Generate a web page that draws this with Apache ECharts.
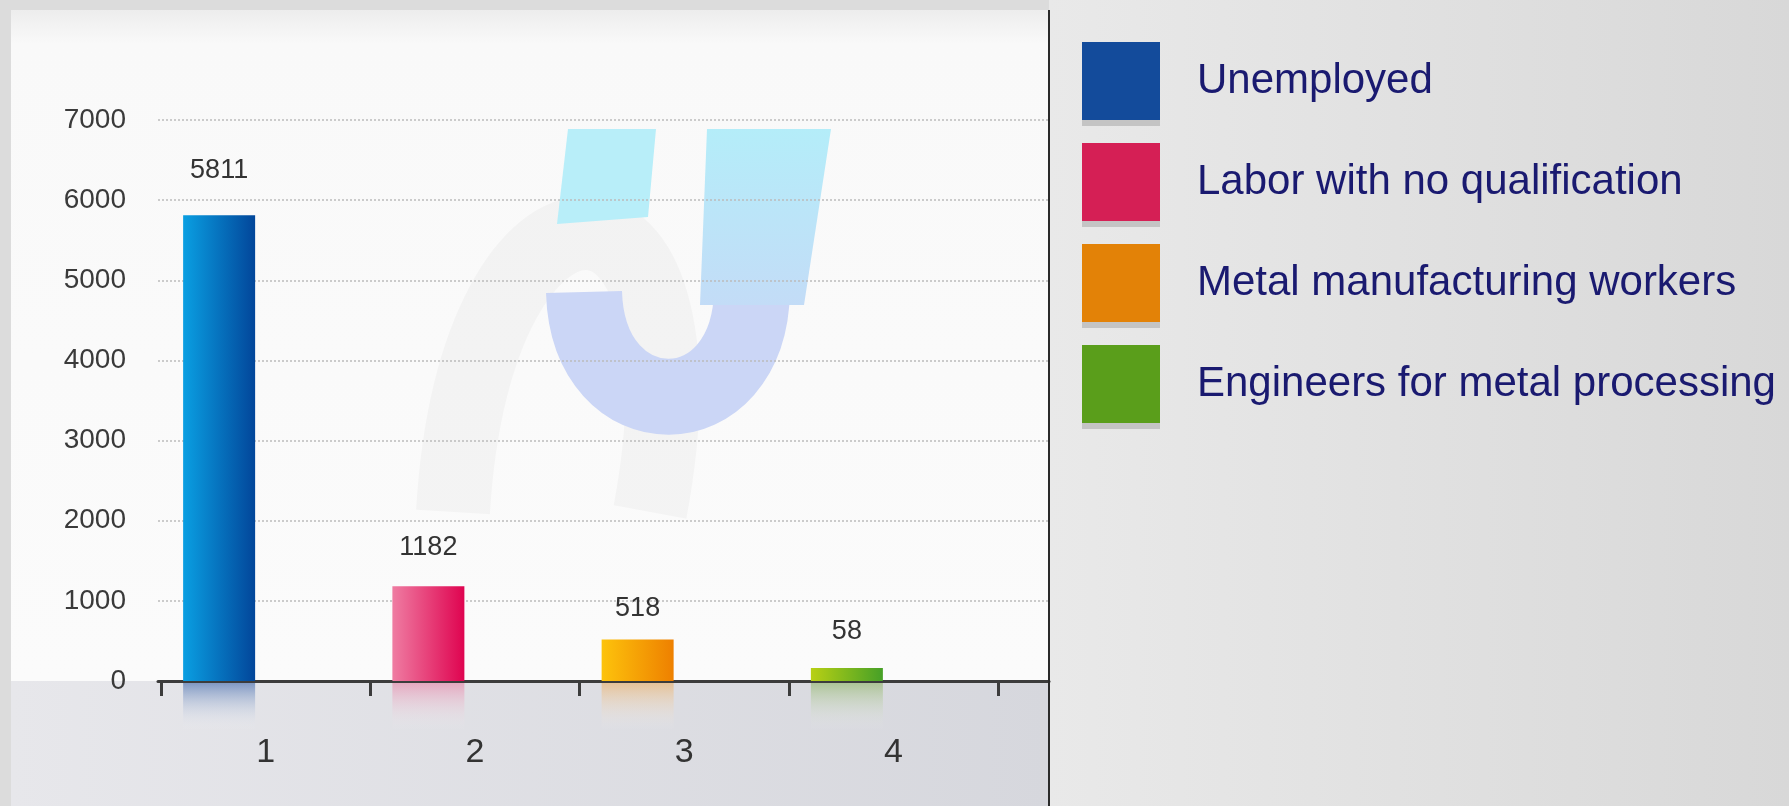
<!DOCTYPE html>
<html>
<head>
<meta charset="utf-8">
<title>Unemployment and metal workers</title>
<script src="https://cdn.jsdelivr.net/npm/echarts@6/dist/echarts.min.js"></script>
<style>
  html, body { margin: 0; padding: 0; background: #dcdcdc; }
  #chart { width: 1789px; height: 806px; }
</style>
</head>
<body>
<div id="chart"></div>
<script>
// data
const categories = ['1', '2', '3', '4'];
const seriesNames = [
  'Unemployed',
  'Labor with no qualification',
  'Metal manufacturing workers',
  'Engineers for metal processing'
];
const values = [5811, 1182, 518, 58];
const yMin = 0;
const yMax = 7000;
const yStep = 1000;

// styles
const FONT = 'Liberation Sans, Arial, Helvetica, sans-serif';
const barLeft = ['#0a9fe2', '#ef7ca2', '#fdc30c', '#b8d014'];
const barRight = ['#02469a', '#df0450', '#ee8000', '#46a027'];
const legendColors = ['#134b9b', '#d51f55', '#e38207', '#5a9e1b'];
const reflTop = ['rgba(45,90,165,0.55)', 'rgba(235,90,140,0.42)', 'rgba(240,160,60,0.45)', 'rgba(110,165,50,0.42)'];
const labelGap = [31, 25, 17, 23];

const chart = echarts.init(document.getElementById('chart'));

const hGrad = (a, b) => new echarts.graphic.LinearGradient(0, 0, 1, 0, [
  { offset: 0, color: a },
  { offset: 1, color: b }
]);
const vGrad = (a, b) => new echarts.graphic.LinearGradient(0, 0, 0, 1, [
  { offset: 0, color: a },
  { offset: 1, color: b }
]);

// main bars, one series per legend entry
const barSeries = seriesNames.map((name, i) => ({
  name: name,
  type: 'bar',
  xAxisIndex: 2,
  yAxisIndex: 2,
  barWidth: 72,
  barGap: '-100%',
  barMinHeight: 13,
  data: values.map((v, j) => (j === i ? v : null)),
  itemStyle: { color: hGrad(barLeft[i], barRight[i]) },
  label: {
    show: true,
    position: 'top',
    distance: labelGap[i],
    fontSize: 27,
    color: '#333',
    fontFamily: FONT
  },
  z: 3
}));

// faded reflection under the axis (clipped to its own small grid)
const reflection = {
  type: 'bar',
  xAxisIndex: 3,
  yAxisIndex: 3,
  barWidth: 72,
  silent: true,
  data: values.map((v, i) => ({
    value: v,
    itemStyle: { color: vGrad(reflTop[i], 'rgba(255,255,255,0)') }
  })),
  z: 2
};

const option = {
  animation: false,
  backgroundColor: '#dcdcdc',
  grid: [
    { left: 158, right: 740, top: 120, bottom: 125 },
    { left: 161, width: 837, top: 120, bottom: 125 },
    { left: 114.5, width: 837, top: 120, bottom: 125 },
    { left: 114.5, width: 837, top: 683, height: 48 }
  ],
  xAxis: [
    {
      gridIndex: 0, type: 'value', min: 0, max: 1,
      axisLine: { show: true, lineStyle: { color: '#3c3c3c', width: 3 } },
      axisTick: { show: false }, axisLabel: { show: false }, splitLine: { show: false }
    },
    {
      gridIndex: 1, type: 'category', data: categories,
      axisLine: { show: true, lineStyle: { color: '#3c3c3c', width: 3 } },
      axisTick: { show: true, interval: 0, length: 15, lineStyle: { color: '#3c3c3c', width: 3 } },
      axisLabel: { fontSize: 34, color: '#333', margin: 55, fontFamily: FONT }
    },
    { gridIndex: 2, type: 'category', data: categories, show: false },
    { gridIndex: 3, type: 'category', data: categories, show: false }
  ],
  yAxis: [
    {
      gridIndex: 0, type: 'value', min: yMin, max: yMax, interval: yStep,
      axisLine: { show: false }, axisTick: { show: false },
      axisLabel: { fontSize: 28, color: '#3a3a3a', margin: 32, fontFamily: FONT, formatter: (v) => String(v) },
      splitLine: { lineStyle: { type: [2, 2], color: '#bcbcbc', width: 1.5 } }
    },
    { gridIndex: 1, type: 'value', min: yMin, max: yMax, show: false },
    { gridIndex: 2, type: 'value', min: yMin, max: yMax, show: false },
    { gridIndex: 3, type: 'value', min: 0, max: 40, inverse: true, show: false }
  ],
  legend: {
    orient: 'vertical',
    left: 1082,
    top: 42,
    padding: 0,
    itemWidth: 78,
    itemHeight: 78,
    itemGap: 23,
    icon: 'rect',
    selectedMode: false,
    itemStyle: {
      borderWidth: 0,
      shadowColor: '#c4c4c4',
      shadowBlur: 0,
      shadowOffsetY: 6
    },
    textStyle: {
      fontSize: 42,
      color: '#1a1a70',
      fontFamily: FONT,
      padding: [0, 0, 0, 32]
    },
    data: seriesNames.map((n, i) => ({ name: n, itemStyle: { color: legendColors[i] } }))
  },
  graphic: {
    elements: [
      // legend panel
      {
        type: 'rect', silent: true, z: -10,
        shape: { x: 1049, y: 0, width: 740, height: 806 },
        style: { fill: hGrad('#e9e9e9', '#d8d8d8') }
      },
      // plot panel
      {
        type: 'rect', silent: true, z: -10,
        shape: { x: 11, y: 10, width: 1038, height: 671 },
        style: {
          fill: new echarts.graphic.LinearGradient(0, 0, 0, 1, [
            { offset: 0, color: '#ededed' },
            { offset: 0.05, color: '#f9f9f9' },
            { offset: 1, color: '#fbfbfb' }
          ])
        }
      },
      // floor under the axis
      {
        type: 'rect', silent: true, z: -10,
        shape: { x: 11, y: 681, width: 1038, height: 125 },
        style: { fill: hGrad('#e7e7eb', '#d6d7dd') }
      },
      // faint logo watermark
      {
        type: 'bezierCurve', silent: true, z: -6,
        shape: { x1: 453, y1: 512, cpx1: 475, cpy1: 140, cpx2: 720, cpy2: 140, x2: 650, y2: 512 },
        style: { fill: null, stroke: 'rgba(0,0,0,0.028)', lineWidth: 74 }
      },
      {
        type: 'polygon', silent: true, z: -5,
        shape: { points: [[568, 129], [656, 129], [648, 217], [557, 224]] },
        style: { fill: '#b8eef9' }
      },
      {
        type: 'bezierCurve', silent: true, z: -5,
        shape: { x1: 752, y1: 290, cpx1: 750, cpy1: 432, cpx2: 588, cpy2: 432, x2: 584, y2: 292 },
        style: { fill: null, stroke: '#cbd6f6', lineWidth: 76 }
      },
      {
        type: 'polygon', silent: true, z: -5,
        shape: { points: [[707, 129], [831, 129], [804, 305], [700, 305]] },
        style: { fill: vGrad('#b4edf9', '#c3dcf7') }
      },
      // divider
      {
        type: 'line', silent: true, z: 10,
        shape: { x1: 1049, y1: 10, x2: 1049, y2: 806 },
        style: { stroke: '#2a2a2a', lineWidth: 2 }
      }
    ]
  },
  series: barSeries.concat([reflection])
};

chart.setOption(option);
</script>
</body>
</html>
